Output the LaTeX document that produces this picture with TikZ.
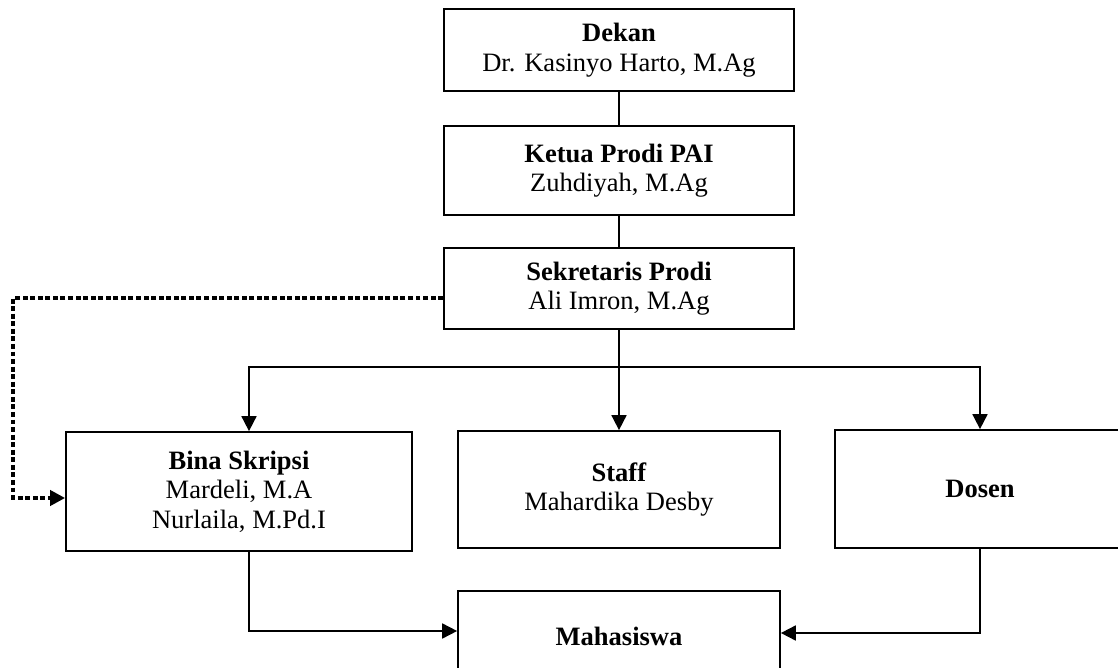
\documentclass[tikz,border=0pt]{standalone}
\usepackage{fontspec}
\setmainfont{Liberation Serif}
\usetikzlibrary{arrows.meta}
\tikzset{
  >={Triangle[length=0.3cm,width=0.3cm]},
  my box/.style={
    draw,
    rectangle,
    line width=1pt,
    align=center,
    inner sep=0pt,
    font=\fontsize{15.1}{16.8}\selectfont
  },
  my line/.style={line width=1pt},
  my dotted/.style={
    line width=2.1pt,
    dash pattern=on 2.8pt off 1.5pt
  }
}
\newcommand{\jab}[1]{\textbf{#1}}

\begin{document}
\begin{tikzpicture}[x=0.02cm,y=-0.02cm]
\useasboundingbox (0,0) rectangle (1118,668);
\node[my box,minimum width=7cm,minimum height=1.64cm] (dekan) at (619,50) {\jab{Dekan}\\Dr. Kasinyo Harto, M.Ag};
\node[my box,minimum width=7cm,minimum height=1.78cm] (ketua) at (619,170.5) {\jab{Ketua Prodi PAI}\\Zuhdiyah, M.Ag};
\node[my box,minimum width=7cm,minimum height=1.62cm] (sekretaris) at (619,288.5) {\jab{Sekretaris Prodi}\\Ali Imron, M.Ag};
\node[my box,minimum width=6.92cm,minimum height=2.38cm] (bina) at (239,491.5) {\jab{Bina Skripsi}\\Mardeli, M.A\\Nurlaila, M.Pd.I};
\node[my box,minimum width=6.44cm,minimum height=2.34cm] (staff) at (619,489.5) {\jab{Staff}\\Mahardika Desby};
\node[my box,minimum width=5.8cm,minimum height=2.36cm] (dosen) at (980,489) {\jab{Dosen}};
\node[my box,minimum width=6.44cm,minimum height=1.8cm] (mhs) at (619,636) {\jab{Mahasiswa}};
% garis komando
\coordinate (split) at (619,367);
\draw[my line] (dekan) -- (ketua);
\draw[my line] (ketua) -- (sekretaris);
\draw[my line] (sekretaris) -- (split);
\draw[my line,->] (split) -| ([xshift=0.2cm]bina.north);
\draw[my line,->] (split) -- (staff.north);
\draw[my line,->] (split) -| (dosen.north);
\draw[my line,->] ([xshift=0.2cm]bina.south) |- ([yshift=0.1cm]mhs.west);
\draw[my line,->] (dosen.south) |- ([yshift=0.06cm]mhs.east);
% garis koordinasi
\draw[my dotted,->] ([yshift=-0.19cm]sekretaris.west) -- ++(-430,0) |- ([yshift=-0.13cm]bina.west);
\end{tikzpicture}
\end{document}
